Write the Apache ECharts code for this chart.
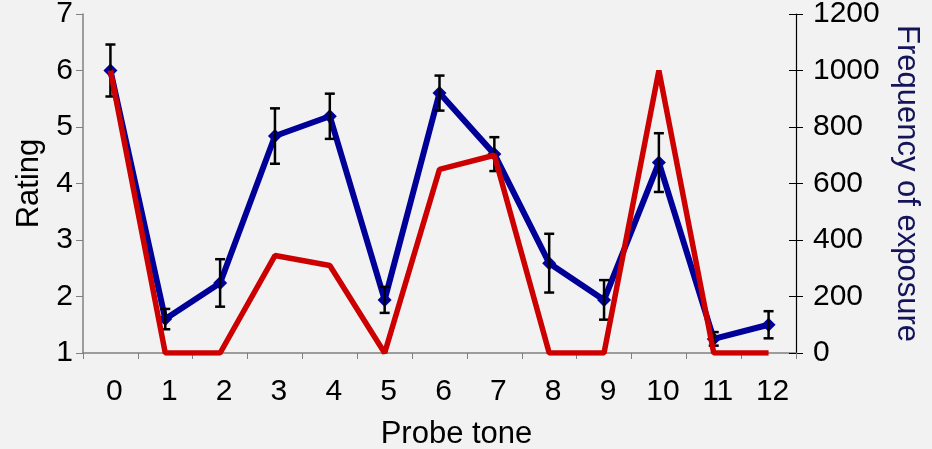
<!DOCTYPE html>
<html>
<head>
<meta charset="utf-8">
<script src="https://cdn.jsdelivr.net/npm/echarts@6/dist/echarts.min.js"></script>
<style>
  html, body { margin: 0; padding: 0; background: #f2f2f2; }
  #chart { width: 932px; height: 449px; }
</style>
</head>
<body>
<div id="chart"></div>
<script>
// probe tones on the x axis
var tones = ['0', '1', '2', '3', '4', '5', '6', '7', '8', '9', '10', '11', '12']
// mean rating (left axis) and its error
var rating = [6.0, 1.6, 2.24, 4.84, 5.19, 1.94, 5.6, 4.52, 2.59, 1.94, 4.37, 1.25, 1.5]
var ratingErr = [0.46, 0.18, 0.42, 0.49, 0.4, 0.23, 0.31, 0.3, 0.52, 0.35, 0.52, 0.12, 0.24]
// frequency of exposure (right axis)
var frequency = [1000, 0, 0, 345, 310, 0, 650, 700, 0, 0, 1000, 0, 0]

var font = 'Liberation Sans, Arial, sans-serif'

var errData = rating.map(function (v, i) {
  return [i, v - ratingErr[i], v + ratingErr[i]]
})

var chart = echarts.init(document.getElementById('chart'))
chart.setOption({
  backgroundColor: '#f2f2f2',
  animation: false,
  grid: { left: 83, right: 136, top: 14, bottom: 96, outerBoundsMode: 'none' },
  xAxis: {
    type: 'category',
    data: tones,
    boundaryGap: true,
    name: 'Probe tone',
    nameLocation: 'middle',
    nameGap: 66,
    nameTextStyle: { fontFamily: font, fontSize: 31, color: '#000', padding: [0, 0, 0, 34] },
    axisLine: { lineStyle: { color: '#808080', width: 1.5 } },
    axisTick: { show: true, length: 6, lineStyle: { color: '#808080' } },
    axisLabel: { fontFamily: font, fontSize: 30, color: '#000', margin: 24, padding: [0, 0, 0, 8] },
    splitLine: { show: false }
  },
  yAxis: [
    {
      type: 'value',
      min: 1,
      max: 7,
      interval: 1,
      name: 'Rating',
      nameLocation: 'middle',
      nameRotate: 90,
      nameGap: 36,
      nameTextStyle: { fontFamily: font, fontSize: 31, color: '#000' },
      axisLine: { show: true, lineStyle: { color: '#808080', width: 1.5 } },
      axisTick: { show: true, length: 7, lineStyle: { color: '#808080' } },
      axisLabel: { fontFamily: font, fontSize: 30, color: '#000', margin: 10 },
      splitLine: { show: false }
    },
    {
      type: 'value',
      position: 'right',
      min: 0,
      max: 1200,
      interval: 200,
      name: 'Frequency of exposure',
      nameLocation: 'middle',
      nameRotate: -90,
      nameGap: 95,
      nameTextStyle: { fontFamily: font, fontSize: 31, color: '#14145a' },
      axisLine: { show: true, lineStyle: { color: '#000', width: 1.2 } },
      axisTick: { show: true, length: 7, lineStyle: { color: '#000' } },
      axisLabel: {
        fontFamily: font, fontSize: 30, color: '#000', margin: 17,
        formatter: function (v) { return String(v) }
      },
      splitLine: { show: false }
    },
    {
      // inner half of the crossing ticks on the right axis
      type: 'value',
      position: 'right',
      min: 0,
      max: 1200,
      interval: 200,
      axisLine: { show: false },
      axisTick: { show: true, inside: true, length: 7, lineStyle: { color: '#000' } },
      axisLabel: { show: false },
      splitLine: { show: false }
    }
  ],
  series: [
    {
      name: 'Rating',
      type: 'line',
      yAxisIndex: 0,
      data: rating,
      symbol: 'diamond',
      symbolSize: 14,
      lineStyle: { color: '#000099', width: 6 },
      itemStyle: { color: '#000099' },
      z: 2
    },
    {
      name: 'Error',
      type: 'custom',
      yAxisIndex: 0,
      data: errData,
      renderItem: function (params, api) {
        var x = api.value(0)
        var lo = api.coord([x, api.value(1)])
        var hi = api.coord([x, api.value(2)])
        var w = 5
        var style = { stroke: '#000', lineWidth: 2.5 }
        return {
          type: 'group',
          children: [
            { type: 'line', shape: { x1: hi[0], y1: hi[1], x2: lo[0], y2: lo[1] }, style: style },
            { type: 'line', shape: { x1: hi[0] - w, y1: hi[1], x2: hi[0] + w, y2: hi[1] }, style: style },
            { type: 'line', shape: { x1: lo[0] - w, y1: lo[1], x2: lo[0] + w, y2: lo[1] }, style: style }
          ]
        }
      },
      z: 3
    },
    {
      name: 'Frequency',
      type: 'line',
      yAxisIndex: 1,
      data: frequency,
      symbol: 'none',
      lineStyle: { color: '#cc0000', width: 5.5 },
      itemStyle: { color: '#cc0000' },
      z: 4
    }
  ]
})
</script>
</body>
</html>
